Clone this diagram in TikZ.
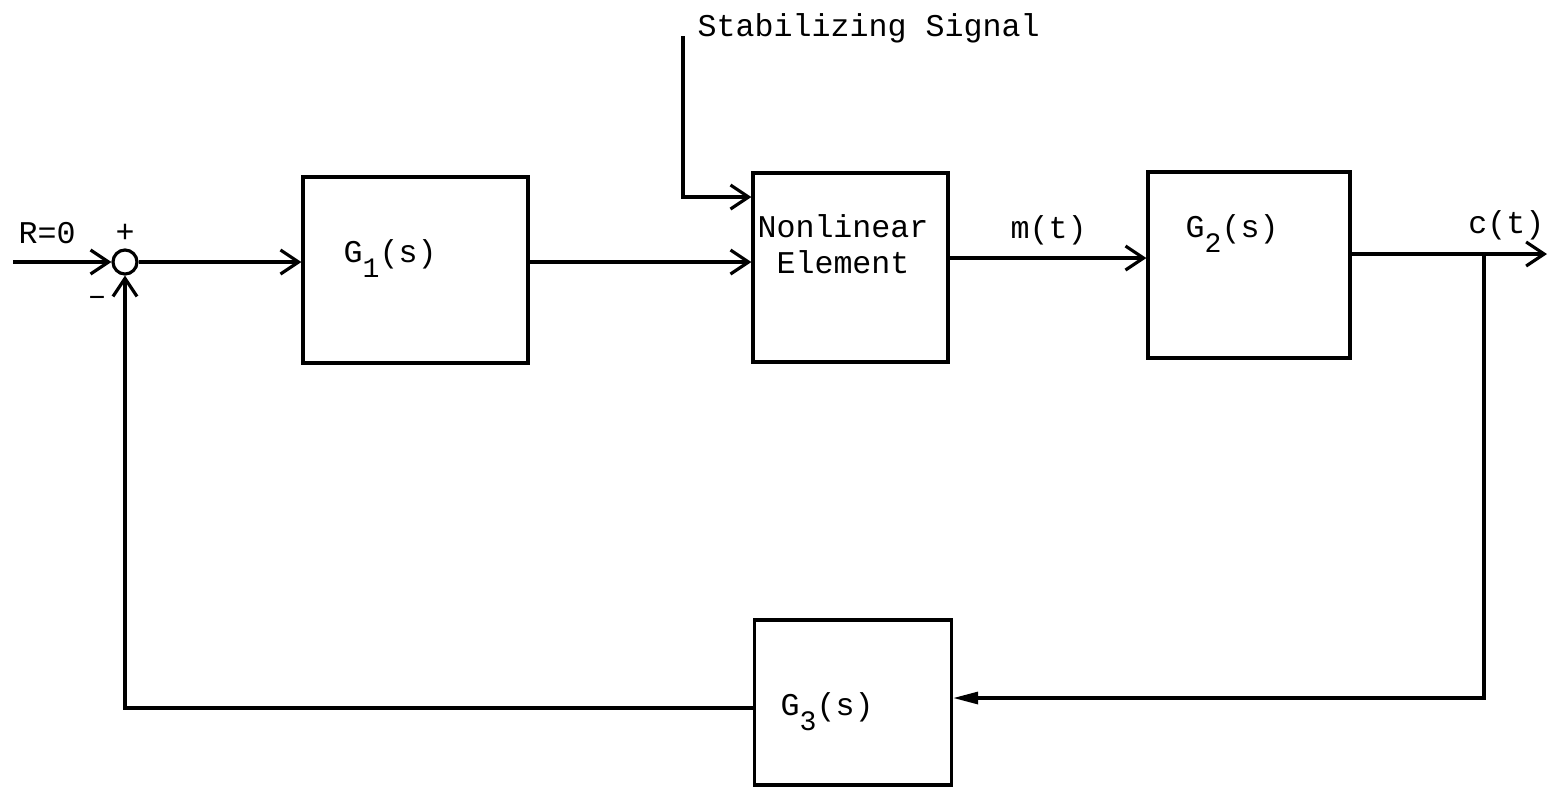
\documentclass[tikz,border=0pt]{standalone}
\usepackage{fontspec}
\setmonofont{Liberation Mono}
\usepackage{tikz}
\usetikzlibrary{arrows.meta,positioning,calc}
\newcommand{\lowsub}[1]{\raisebox{-4.5pt}{\fontsize{8}{9}\selectfont#1}}

\begin{document}
\begin{tikzpicture}[
        x=0.01cm, y=-0.01cm,
        block/.style={draw, line width=0.9pt, inner sep=0pt},
        sumnode/.style={draw, circle, line width=0.9pt, minimum size=0.24cm, inner sep=0pt},
        lbl/.style={font=\ttfamily\fontsize{9}{10.2}\selectfont, inner sep=0pt},
        wire/.style={line width=0.9pt},
        >={Straight Barb[length=1.8mm,width=2.4mm]}
      ]
        \useasboundingbox (0,0) rectangle (1548,787);

        % blocks
        \node[sumnode] (sum) at (125,262) {};
        \node[block, minimum width=2.25cm, minimum height=1.86cm] (g1) at (415.5,270) {};
        \node[block, minimum width=1.95cm, minimum height=1.89cm] (nl) at (850.5,267.5) {};
        \node[block, minimum width=2.02cm, minimum height=1.86cm] (g2) at (1249,265) {};
        \node[block, minimum width=1.97cm, minimum height=1.65cm] (g3) at (853,702.5) {};

        % texts
        \node[lbl, anchor=base west] (g1t) at (343,262) {G\lowsub{1}(s)};
        \node[lbl, anchor=base, align=center] (nlt) at (843,273) {Nonlinear\\Element};
        \node[lbl, anchor=base west] (g2t) at (1185,237) {G\lowsub{2}(s)};
        \node[lbl, anchor=base west] (g3t) at (780,715) {G\lowsub{3}(s)};
        \node[lbl, anchor=base west] (rin) at (18,243) {R=0};
        \node[lbl] (plus) at (125,233) {+};
        \node[lbl] (minus) at (97,301) {\textendash};
        \node[lbl, anchor=base west] (stab) at (697,36) {Stabilizing Signal};
        \node[lbl, anchor=base west] (mt) at (1010,238) {m(t)};
        \node[lbl, anchor=base east] (ct) at (1545,233) {c(t)};

        % free ends and corners
        \coordinate (in) at (13,262);
        \coordinate (stop) at (683,36);
        \coordinate (sbend) at (683,197);
        \coordinate (mrow) at (0,258);
        \coordinate (crow) at (0,254);
        \coordinate (br) at (1484,254);
        \coordinate (out) at (1547,254);
        \coordinate (fbr) at (1484,698);
        \coordinate (fbl) at (125,708);

        % forward path
        \draw[wire,->] (in) -- (sum.west);
        \draw[wire,->] (sum.east) -- (g1.west |- sum.east);
        \draw[wire,->] (g1.east |- sum.east) -- (nl.west |- sum.east);
        \draw[wire,->] (stop) -- (sbend) -- (nl.west |- sbend);
        \draw[wire,->] (nl.east |- mrow) -- (g2.west |- mrow);
        \draw[wire,->] (g2.east |- crow) -- (out);

        % feedback path
        \draw[wire,-{Triangle[length=2.5mm,width=1.2mm]}] (br) -- (fbr) -- (g3.east |- fbr);
        \draw[wire,->] (g3.west |- fbl) -- (fbl) -- (sum.south);
      \end{tikzpicture}
\end{document}
